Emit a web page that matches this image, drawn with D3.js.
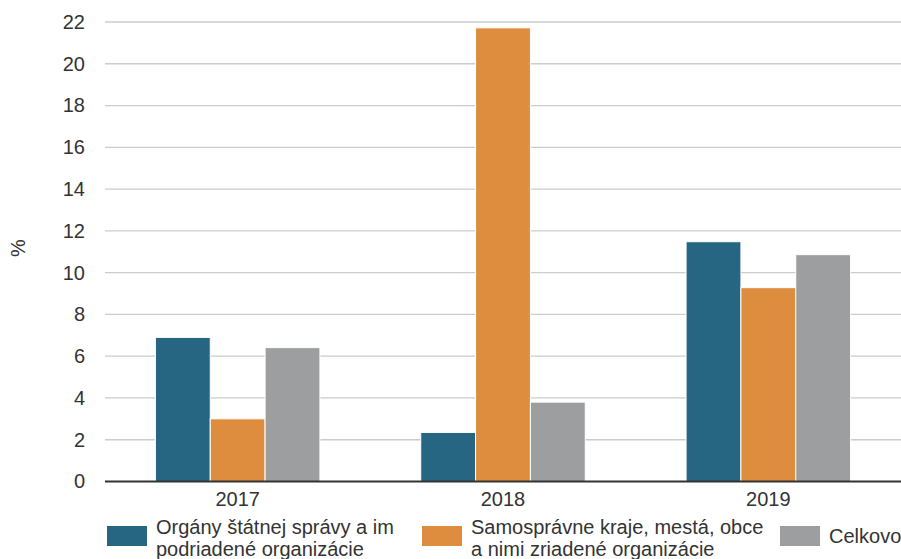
<!DOCTYPE html>
<html>
<head>
<meta charset="utf-8">
<script src="https://cdn.jsdelivr.net/npm/d3@7"></script>
<style>
  body { margin: 0; background: #fff; }
  svg text { font-family: "Liberation Sans", Arial, sans-serif; fill: #333; }
</style>
</head>
<body>
<div id="chart"></div>
<script>
const years = ['2017', '2018', '2019'];
const seriesNames = [
    ['Orgány štátnej správy a im', 'podriadené organizácie'],
    ['Samosprávne kraje, mestá, obce', 'a nimi zriadené organizácie'],
    ['Celkovo']
];
const statne = [6.9, 2.35, 11.48];
const samosprava = [3.0, 21.72, 9.28];
const celkovo = [6.41, 3.8, 10.86];
const yTicks = [0, 2, 4, 6, 8, 10, 12, 14, 16, 18, 20, 22];
const colors = ['#266683', '#de8c3e', '#9d9ea0'];

const W = 901, H = 559;
const margin = { top: 22, right: 0, bottom: 77, left: 105 };

const svg = d3.select('#chart').append('svg')
    .attr('width', W)
    .attr('height', H);

const x0 = d3.scaleBand()
    .domain(years)
    .range([margin.left, W - margin.right])
    .paddingInner(0.38)
    .paddingOuter(0.19);

const x1 = d3.scaleBand()
    .domain([0, 1, 2])
    .range([0, x0.bandwidth()]);

const y = d3.scaleLinear()
    .domain([0, 22])
    .range([H - margin.bottom - 0.5, margin.top]);

// gridlines
svg.append('g')
    .selectAll('line')
    .data(yTicks.filter(d => d > 0))
    .enter()
    .append('line')
    .attr('x1', margin.left)
    .attr('x2', W)
    .attr('y1', d => y(d))
    .attr('y2', d => y(d))
    .attr('stroke', '#cccccc')
    .attr('stroke-width', 1.3);

// y axis labels
const yAxis = d3.axisLeft(y).tickValues(yTicks).tickSize(0).tickPadding(20);
svg.append('g')
    .attr('transform', 'translate(' + margin.left + ',0)')
    .call(yAxis)
    .call(g => g.select('.domain').remove())
    .attr('font-size', 20)
    .selectAll('text')
    .attr('font-size', 20)
    .style('fill', '#333');

// bars
const table = years.map((yr, i) => ({ year: yr, values: [statne[i], samosprava[i], celkovo[i]] }));

svg.append('g')
    .selectAll('g')
    .data(table)
    .enter()
    .append('g')
    .attr('transform', d => 'translate(' + x0(d.year) + ',0)')
    .selectAll('rect')
    .data(d => d.values)
    .enter()
    .append('rect')
    .attr('x', (d, i) => x1(i))
    .attr('y', d => y(d))
    .attr('width', x1.bandwidth())
    .attr('height', d => y(0) - y(d))
    .attr('fill', (d, i) => colors[i])
    .attr('stroke', '#fff')
    .attr('stroke-width', 1);

// x axis
const xAxis = d3.axisBottom(x0).tickSize(0).tickPadding(10);
svg.append('g')
    .attr('transform', 'translate(0,' + y(0) + ')')
    .call(xAxis)
    .call(g => g.select('.domain').remove())
    .attr('font-size', 20)
    .selectAll('text')
    .attr('font-size', 20)
    .style('fill', '#333');

svg.append('line')
    .attr('x1', margin.left)
    .attr('x2', W)
    .attr('y1', y(0))
    .attr('y2', y(0))
    .attr('stroke', '#333')
    .attr('stroke-width', 2.2);

// y title
svg.append('text')
    .attr('transform', 'translate(25,248) rotate(-90)')
    .attr('text-anchor', 'middle')
    .attr('font-size', 20)
    .text('%');

// legend
const legendX = [107, 422, 780];
const legend = svg.append('g')
    .selectAll('g')
    .data(seriesNames)
    .enter()
    .append('g')
    .attr('transform', (d, i) => 'translate(' + legendX[i] + ',526)');

legend.append('rect')
    .attr('width', 40)
    .attr('height', 20)
    .attr('fill', (d, i) => colors[i]);

legend.append('text')
    .attr('y', d => d.length > 1 ? 8 : 17)
    .attr('font-size', 20)
    .selectAll('tspan')
    .data(d => d)
    .enter()
    .append('tspan')
    .attr('x', d => 49)
    .attr('dy', (d, i) => i === 0 ? 0 : 22)
    .text(d => d);
</script>
</body>
</html>
